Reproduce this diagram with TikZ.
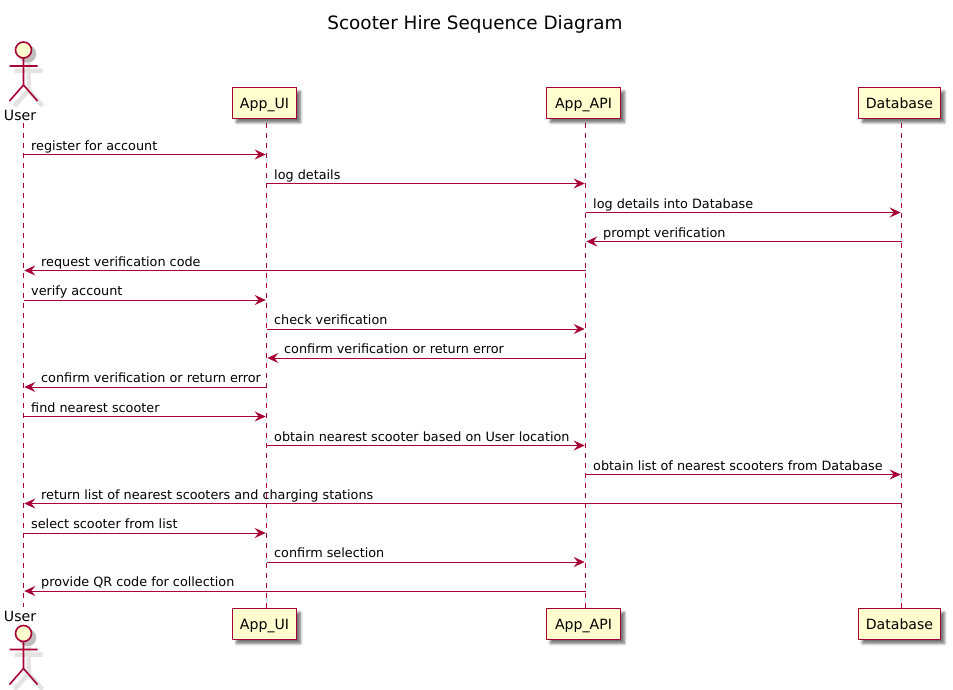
\documentclass[tikz,border=0pt]{standalone}
\usepackage{fontspec}
\setmainfont{DejaVu Sans}
\usetikzlibrary{arrows.meta,shadows.blur}
\definecolor{umlline}{HTML}{A80036}
\definecolor{umlfill}{HTML}{FEFECE}
\tikzset{
  part/.style={draw=umlline,fill=umlfill,line width=1.8pt,minimum width=#1,minimum height=31pt,
    inner sep=0pt,text height=12pt,text depth=1pt,font=\fontsize{14.1}{16}\selectfont,
    blur shadow={shadow xshift=4pt,shadow yshift=-4pt,shadow blur steps=6,shadow blur radius=2.5pt,shadow opacity=55}},
  life/.style={umlline,line width=1pt,dash pattern=on 5pt off 5pt},
  msg/.style={umlline,line width=1pt,shorten >=.8pt,-{Stealth[length=11pt,width=10pt,inset=4pt]}},
  msgtext/.style={anchor=base west,inner sep=0pt,text=black,font=\fontsize{12.8}{15}\selectfont},
  pics/actor/.style={code={
    \draw[black!25,line width=1.5pt,fill=black!25] (4,4) circle (8);
    \draw[black!11,line width=4.5pt] (5,13) -- (5,40) (-9,21) -- (19,21) (-9,56) -- (5,40) -- (19,56);
    \draw[umlline,line width=1.6pt,fill=umlfill] (0,0) circle (8);
    \draw[umlline,line width=1.6pt] (0,8) -- (0,35) (-14,16) -- (14,16) (-14,51) -- (0,35) -- (14,51);
  }}
}
\begin{document}
\begin{tikzpicture}[x=1pt,y=-1pt]
  \useasboundingbox (0,0) rectangle (953,690);
  \node[font=\fontsize{18.4}{20}\selectfont] (title) at (475,24) {Scooter Hire Sequence Diagram};
  \coordinate (user-a) at (23.5,123);
  \coordinate (user-b) at (23.5,607);
  \draw[life] (user-a) -- (user-b);
  \foreach \n/\x/\w/\t in {ui/266.5/64/App\_UI,api/585.5/74/App\_API,db/901.5/82/Database}{
    \coordinate (\n-a) at (\x,123);
    \coordinate (\n-b) at (\x,608);
    \draw[life] (\n-a) -- (\n-b);
    \node[part=\w] (\n-top) at ({\x-2},103) {\t};
    \node[part=\w] (\n-bot) at ({\x-2},624) {\t};
  }
  \pic at (23.5,50) {actor};
  \pic at (23.5,633.5) {actor};
  \node[anchor=base,inner sep=0pt,font=\fontsize{14.1}{16}\selectfont] (usertxt) at (20,120.5) {User};
  \node[anchor=base,inner sep=0pt,font=\fontsize{14.1}{16}\selectfont] (userbtxt) at (20,621) {User};
  % left to right
  \foreach \y/\a/\b/\t in {
    154.5/user-a/ui-a/register for account,
    183.5/ui-a/api-a/log details,
    212.5/api-a/db-a/log details into Database,
    300/user-a/ui-a/verify account,
    329/ui-a/api-a/check verification,
    416.5/user-a/ui-a/find nearest scooter,
    445.5/ui-a/api-a/obtain nearest scooter based on User location,
    474.5/api-a/db-a/obtain list of nearest scooters from Database,
    533/user-a/ui-a/select scooter from list,
    562/ui-a/api-a/confirm selection}{
    \coordinate (row) at (0,\y);
    \draw[msg] (\a |- row) -- (\b |- row);
    \node[msgtext] at ([shift={(7.5,-4.4)}]\a |- row) {\t};
  }
  % right to left
  \foreach \y/\a/\b/\t in {
    241.5/db-a/api-a/prompt verification,
    270.5/api-a/user-a/request verification code,
    358/api-a/ui-a/confirm verification or return error,
    387/ui-a/user-a/confirm verification or return error,
    503.5/db-a/user-a/return list of nearest scooters and charging stations,
    591/api-a/user-a/provide QR code for collection}{
    \coordinate (row) at (0,\y);
    \draw[msg] (\a |- row) -- (\b |- row);
    \node[msgtext] at ([shift={(17.5,-4.4)}]\b |- row) {\t};
  }
\end{tikzpicture}
\end{document}
